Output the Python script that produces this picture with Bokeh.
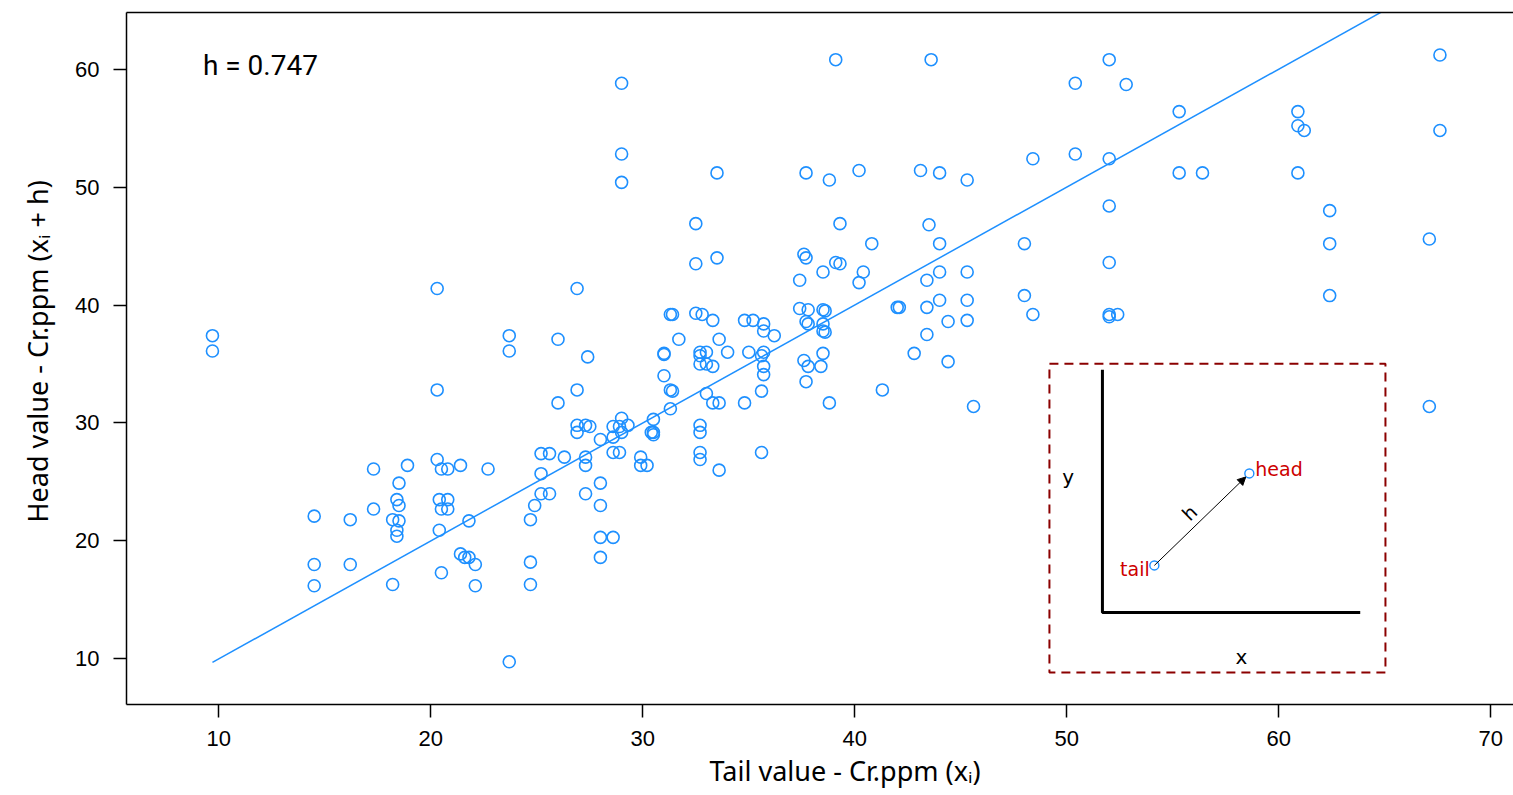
from bokeh.plotting import figure
from bokeh.models import Range1d, FixedTicker, LinearAxis, Arrow, NormalHead, Label, Title
from bokeh.core.properties import value
from bokeh.embed import file_html
from bokeh.resources import INLINE

# ---- data: h-scatterplot pairs (tail value, head value) ----
tail_x = [9.7, 9.7, 14.5, 14.5, 14.5, 16.2, 16.2, 17.3, 17.3, 18.9,
          18.5, 18.4, 18.5, 18.2, 18.5, 18.4, 18.4, 18.2, 20.3, 20.3,
          20.3, 20.5, 20.8, 21.4, 22.7, 20.4, 20.8, 20.5, 20.8, 20.4,
          21.8, 21.4, 21.6, 21.8, 22.1, 20.5, 22.1, 23.7, 23.7, 23.7,
          24.7, 24.7, 24.7, 24.9, 25.2, 25.6, 25.2, 25.2, 25.6, 26.3,
          26.0, 26.0, 26.9, 26.9, 26.9, 26.9, 27.3, 27.5, 27.4, 27.3,
          27.3, 27.3, 28.0, 28.0, 28.0, 28.0, 28.6, 28.0, 28.6, 28.6,
          28.6, 28.9, 29.0, 28.9, 29.3, 29.0, 29.0, 29.0, 29.0, 29.9,
          29.9, 30.2, 30.5, 30.4, 30.5, 30.5, 31.3, 31.4, 32.5, 32.8,
          31.7, 31.0, 31.0, 32.7, 32.7, 33.0, 32.7, 33.0, 33.3, 31.0,
          31.3, 31.4, 31.3, 32.7, 32.7, 32.7, 32.7, 33.6, 35.6, 32.5,
          39.3, 32.5, 33.5, 37.6, 37.7, 39.1, 39.3, 38.5, 40.8, 40.4,
          40.2, 37.4, 33.3, 33.6, 34.8, 35.2, 35.7, 35.7, 36.2, 37.4,
          37.8, 37.7, 37.8, 38.5, 38.6, 38.5, 38.5, 38.6, 38.5, 34.0,
          35.0, 35.7, 35.6, 35.7, 35.7, 33.0, 33.3, 33.6, 34.8, 35.6,
          37.6, 37.8, 38.4, 37.7, 38.8, 41.3, 42.0, 39.1, 43.6, 50.4,
          50.4, 48.4, 37.7, 38.8, 40.2, 43.1, 44.0, 45.3, 43.5, 44.0,
          48.0, 44.0, 45.3, 43.4, 48.0, 48.4, 44.0, 45.3, 42.1, 43.4,
          44.4, 45.3, 43.4, 42.8, 44.4, 45.6, 52.0, 52.8, 55.3, 60.9,
          60.9, 61.2, 67.6, 67.6, 52.0, 55.3, 56.4, 60.9, 52.0, 62.4,
          62.4, 67.1, 52.0, 62.4, 52.0, 52.0, 52.4, 67.1, 33.5]
head_y = [37.4, 36.1, 22.1, 18.0, 16.2, 21.8, 18.0, 26.1, 22.7, 26.4,
          24.9, 23.5, 23.0, 21.8, 21.7, 20.9, 20.4, 16.3, 41.4, 32.8,
          26.9, 26.1, 26.1, 26.4, 26.1, 23.5, 23.5, 22.7, 22.7, 20.9,
          21.7, 18.9, 18.6, 18.6, 18.0, 17.3, 16.2, 37.4, 36.1, 9.75,
          21.8, 18.2, 16.3, 23.0, 27.4, 27.4, 25.7, 24.0, 24.0, 27.1,
          37.1, 31.7, 41.4, 32.8, 29.8, 29.2, 29.8, 29.7, 35.6, 27.1,
          26.4, 24.0, 28.6, 24.9, 23.0, 20.3, 20.3, 18.6, 29.7, 28.8,
          27.5, 27.5, 30.4, 29.7, 29.8, 29.2, 58.8, 52.8, 50.4, 27.1,
          26.4, 26.4, 30.3, 29.2, 29.2, 29.0, 39.2, 39.2, 39.3, 39.2,
          37.1, 35.9, 35.8, 36.0, 35.7, 36.0, 35.0, 35.0, 34.8, 34.0,
          32.8, 32.7, 31.2, 29.8, 29.2, 27.5, 26.9, 26.0, 27.5, 46.9,
          46.9, 43.5, 44.0, 44.3, 44.0, 43.6, 43.5, 42.8, 45.2, 42.8,
          41.9, 42.1, 38.7, 37.1, 38.7, 38.7, 38.4, 37.8, 37.4, 39.7,
          39.6, 38.6, 38.4, 39.6, 39.5, 38.4, 37.8, 37.7, 35.9, 36.0,
          36.0, 36.0, 35.7, 34.8, 34.1, 32.5, 31.7, 31.7, 31.7, 32.7,
          35.3, 34.8, 34.8, 33.5, 31.7, 32.8, 39.8, 60.8, 60.8, 58.8,
          52.8, 52.4, 51.2, 50.6, 51.4, 51.4, 51.2, 50.6, 46.8, 45.2,
          45.2, 42.8, 42.8, 42.1, 40.8, 39.2, 40.4, 40.4, 39.8, 39.8,
          38.6, 38.7, 37.5, 35.9, 35.2, 31.4, 60.8, 58.7, 56.4, 56.4,
          55.2, 54.8, 61.2, 54.8, 52.4, 51.2, 51.2, 51.2, 48.4, 48.0,
          45.2, 45.6, 43.6, 40.8, 39.2, 39.0, 39.2, 31.4, 51.2]
x_ticks = [10, 20, 30, 40, 50, 60, 70]
y_ticks = [10, 20, 30, 40, 50, 60]
lag_text = "h = 0.747"
x_title = "Tail value - Cr.ppm (x\u1d62)"
y_title = "Head value - Cr.ppm (x\u1d62 + h)"

BLUE = "#1E90FF"
TICK_FONT = "Liberation Sans"
TITLE_FONT = "Noto Sans"

p = figure(width=1513, height=795, output_backend="svg", toolbar_location=None,
           x_range=Range1d(5.646, 71.07), y_range=Range1d(6.13, 64.80),
           min_border_left=126, min_border_right=0, min_border_top=12,
           min_border_bottom=91)
p.grid.visible = False
p.outline_line_color = None
p.background_fill_color = "white"
p.border_fill_color = "white"

for ax in (p.xaxis[0], p.yaxis[0]):
    ax.axis_line_width = 1.5
    ax.axis_line_color = "black"
    ax.major_tick_line_width = 1.5
    ax.major_tick_line_color = "black"
    ax.major_tick_out = 13
    ax.major_tick_in = 0
    ax.minor_tick_out = 0
    ax.minor_tick_in = 0
    ax.major_label_text_font = TICK_FONT
    ax.major_label_text_font_size = "22px"
    ax.major_label_text_color = "black"

p.xaxis[0].ticker = FixedTicker(ticks=x_ticks)
p.yaxis[0].ticker = FixedTicker(ticks=y_ticks)
p.xaxis[0].major_label_standoff = 13
p.yaxis[0].major_label_standoff = 14
p.yaxis[0].major_label_orientation = "horizontal"

# axis titles as panel titles so they can sit where the original puts them
yt = Title(text=y_title, align="left", offset=182, text_font=TITLE_FONT,
           text_font_size="27px", text_font_style="normal", text_color="black",
           standoff=33)
p.add_layout(yt, "left")

# x title (the original's plot box runs past the window, so its title sits right of centre)
xt = Title(text=x_title, align="left", offset=583, text_font=TITLE_FONT,
           text_font_size="27px", text_font_style="normal", text_color="black",
           standoff=3)
p.add_layout(xt, "below")

# top edge of the box
top_axis = LinearAxis(ticker=FixedTicker(ticks=[]), axis_line_width=1.5,
                      axis_line_color="black", major_tick_out=0, major_tick_in=0,
                      minor_tick_out=0, minor_tick_in=0, major_label_standoff=0)
p.add_layout(top_axis, "above")

# data
p.scatter(tail_x, head_y, marker="circle", size=12, fill_color=None,
          line_color=BLUE, line_width=1.6)
lo, hi = min(tail_x), max(tail_x)
p.line([lo, hi], [lo, hi], line_color=BLUE, line_width=1.5)

p.add_layout(Label(x=9.25, y=60.28, text=lag_text, text_font="Roboto",
                   text_font_size="28px", text_color="black",
                   text_baseline="alphabetic", text_align="left"))

# ---- inset schematic (annotation) ----
bx0, bx1, by0, by1 = 49.18, 65.03, 8.84, 35.03
p.quad(left=[bx0], right=[bx1], bottom=[by0], top=[by1], fill_color=None,
       line_color="#8B0000", line_width=2, line_dash="9 6")
ax_x, ax_top, ax_bot, ax_right = 51.68, 34.52, 13.92, 63.84
p.line([ax_x, ax_x, ax_right], [ax_top, ax_bot, ax_bot], line_color="black",
       line_width=3)
tx, ty, hx, hy = 54.13, 17.92, 58.61, 25.72
p.add_layout(Arrow(end=NormalHead(size=8, fill_color="black", line_color="black"),
                   x_start=tx, y_start=ty, x_end=hx - 0.17, y_end=hy - 0.3,
                   line_width=1, line_color="black"))
p.scatter([tx, hx], [ty, hy], marker="circle", size=9, fill_color=None,
          line_color=BLUE, line_width=1.4)
INSET_FONT = "DejaVu Sans"
p.text(x=[hx + 0.28], y=[26.1], text=["head"], text_font=value(INSET_FONT),
       text_font_size="19px", text_color="#CD0000", text_align="left",
       text_baseline="alphabetic")
p.text(x=[tx - 0.22], y=[17.64], text=["tail"], text_font=value(INSET_FONT),
       text_font_size="19px", text_color="#CD0000", text_align="right",
       text_baseline="alphabetic")
p.text(x=[50.06], y=[25.4], text=["y"], text_font=value(INSET_FONT),
       text_font_size="20px", text_color="black", text_align="center",
       text_baseline="middle")
p.text(x=[58.24], y=[10.17], text=["x"], text_font=value(INSET_FONT),
       text_font_size="20px", text_color="black", text_align="center",
       text_baseline="middle")
p.text(x=[55.78], y=[22.38], text=["h"], angle=0.77, text_font=value(INSET_FONT),
       text_font_size="19px", text_color="black", text_align="center",
       text_baseline="middle")

open("out.html", "w").write(file_html(p, INLINE))
